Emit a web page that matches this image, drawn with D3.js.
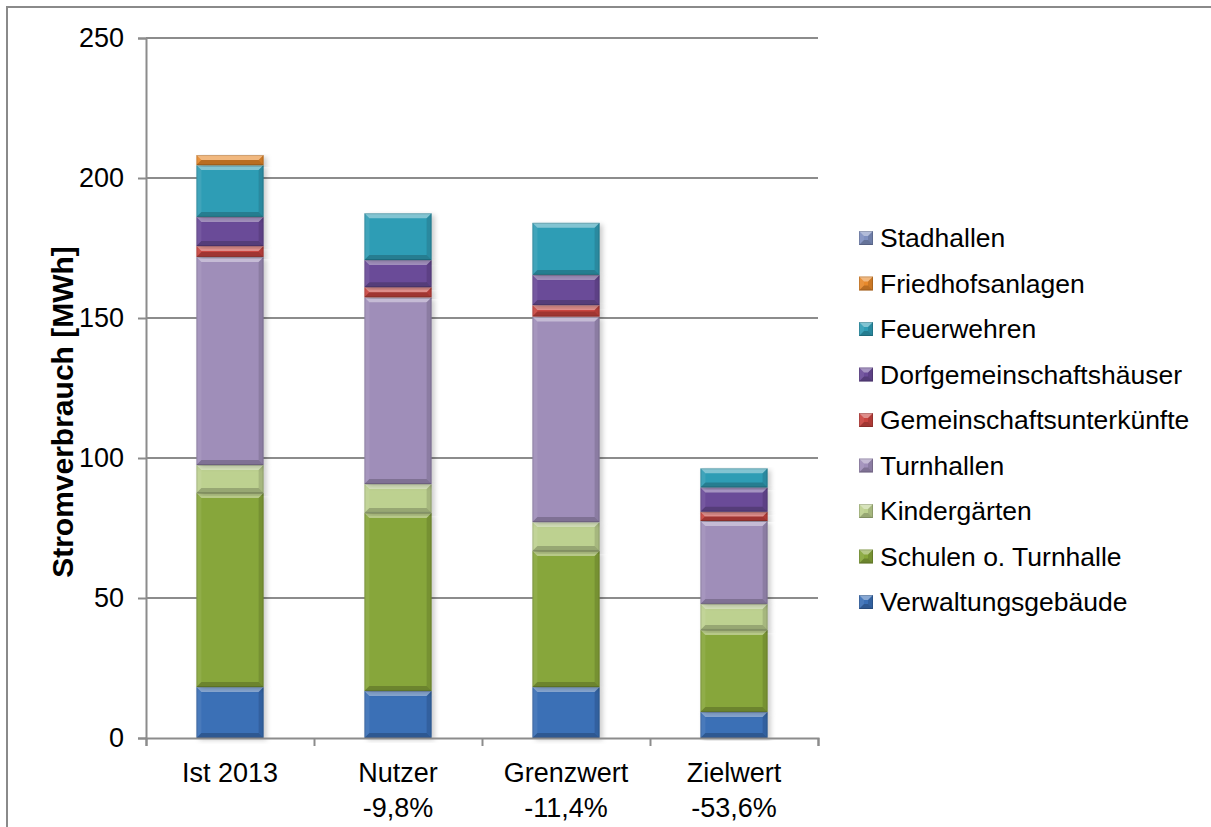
<!DOCTYPE html>
<html>
<head>
<meta charset="utf-8">
<script src="https://cdn.jsdelivr.net/npm/d3@7"></script>
<style>
  body { margin: 0; background: #fff; }
  svg { font-family: "Liberation Sans", Arial, sans-serif; }
</style>
</head>
<body>
<div id="chart"></div>
<script>
// values, MWh
const categories = ['Ist 2013', 'Nutzer', 'Grenzwert', 'Zielwert'],
      changes    = ['', '-9,8%', '-11,4%', '-53,6%'],
      series     = ['Verwaltungsgebäude', 'Schulen o. Turnhalle', 'Kindergärten', 'Turnhallen',
                    'Gemeinschaftsunterkünfte', 'Dorfgemeinschaftshäuser', 'Feuerwehren',
                    'Friedhofsanlagen', 'Stadhallen'],
      verwaltung = [18.2, 16.8, 18.2, 9.3],
      schulen    = [69.3, 63.6, 48.6, 29.3],
      kinder     = [10.0, 10.3, 10.3, 9.3],
      turnhallen = [74.3, 66.7, 73.4, 29.6],
      gemein     = [3.9, 3.6, 4.1, 3.3],
      dorf       = [10.4, 9.7, 10.8, 8.7],
      feuer      = [18.5, 16.7, 18.6, 6.8],
      friedhof   = [3.6, 0, 0, 0],
      stadhallen = [0, 0, 0, 0],
      yTicks     = [0, 50, 100, 150, 200, 250]

const colors = ['#3a6fb6', '#87a63a', '#bdd190', '#9f8eb9', '#c9443f',
                '#6a4b98', '#2f9db5', '#e8892b', '#7f90c0']

const W = 1211, H = 827

let rows = categories.map((c, i) => {
      let r = { cat: c }
      ;[verwaltung, schulen, kinder, turnhallen, gemein, dorf, feuer, friedhof, stadhallen]
        .forEach((s, j) => { r[series[j]] = s[i] })
      return r }),
    stack = d3.stack().keys(series)(rows)

let svg = d3.select('#chart').append('svg')
      .attr('width', W)
      .attr('height', H),
    defs = svg.append('defs')

defs.append('filter')
    .attr('id', 'shadow')
    .attr('x', '-20%').attr('y', '-5%')
    .attr('width', '150%').attr('height', '115%')
  .append('feDropShadow')
    .attr('dx', 3).attr('dy', 2)
    .attr('stdDeviation', 2.5)
    .attr('flood-color', '#000')
    .attr('flood-opacity', 0.2)

// outer frame
svg.append('rect')
  .attr('x', 7).attr('y', 7)
  .attr('width', W + 10).attr('height', H + 10)
  .attr('fill', 'none')
  .attr('stroke', '#8a8a8a')
  .attr('stroke-width', 2)

let y = d3.scaleLinear().domain([0, 250]).range([738, 38]),
    x = d3.scaleBand().domain(categories).range([146, 818])
          .paddingInner(0.6).paddingOuter(0.3),
    xb = d3.scaleLinear().domain([0, categories.length]).range([146, 818])

// gridlines
svg.append('g')
  .selectAll('line')
  .data(yTicks.slice(1))
  .join('line')
    .attr('x1', 146).attr('x2', 818)
    .attr('y1', d => y(d)).attr('y2', d => y(d))
    .attr('stroke', '#8c8c8c')
    .attr('stroke-width', 2)

// beveled segment
function bevel(g, x0, y0, w, h, col) {
  let b = Math.min(5, h / 2), x1 = x0 + w, y1 = y0 + h
  g.append('rect')
    .attr('x', x0).attr('y', y0)
    .attr('width', w).attr('height', h)
    .attr('fill', col)
  let faces = [
    [[x0, y0], [x1, y0], [x1 - b, y0 + b], [x0 + b, y0 + b], '#fff', 0.4],
    [[x0, y0], [x0 + b, y0 + b], [x0 + b, y1 - b], [x0, y1], '#fff', 0.08],
    [[x1, y0], [x1, y1], [x1 - b, y1 - b], [x1 - b, y0 + b], '#000', 0.12],
    [[x0, y1], [x0 + b, y1 - b], [x1 - b, y1 - b], [x1, y1], '#000', 0.2]
  ]
  faces.forEach(f => {
    g.append('polygon')
      .attr('points', f.slice(0, 4).map(p => p.join(',')).join(' '))
      .attr('fill', f[4])
      .attr('fill-opacity', f[5])
  })
  g.append('rect')
    .attr('x', x0 + 0.5).attr('y', y0 + 0.5)
    .attr('width', Math.max(0, w - 1)).attr('height', Math.max(0, h - 1))
    .attr('fill', 'none')
    .attr('stroke', '#000')
    .attr('stroke-opacity', 0.15)
}

let bars = svg.append('g')
stack.forEach((layer, j) => {
  layer.forEach((d, i) => {
    let h = y(d[0]) - y(d[1])
    if (h <= 0.5) return
    let g = bars.append('g').attr('filter', 'url(#shadow)')
    bevel(g, x(categories[i]), y(d[1]), x.bandwidth(), h, colors[j])
  })
})

// y axis
let ya = svg.append('g')
  .attr('transform', 'translate(146,0)')
  .call(d3.axisLeft(y).tickValues(yTicks).tickSize(8).tickPadding(14))
ya.select('.domain').attr('stroke', '#8c8c8c').attr('stroke-width', 2)
ya.selectAll('.tick line').attr('stroke', '#8c8c8c').attr('stroke-width', 2)
ya.selectAll('.tick text')
  .attr('font-size', 27)
  .attr('font-family', '"Liberation Sans", Arial, sans-serif')
  .attr('fill', '#000')

// x axis, ticks at the category borders
let xa = svg.append('g')
  .attr('transform', 'translate(0,738)')
  .call(d3.axisBottom(xb).tickValues(d3.range(categories.length + 1))
          .tickSize(8).tickFormat(''))
xa.select('.domain').attr('stroke', '#8c8c8c').attr('stroke-width', 2)
xa.selectAll('.tick line').attr('stroke', '#8c8c8c').attr('stroke-width', 2)

let xl = svg.append('g')
  .selectAll('text')
  .data(categories)
  .join('text')
    .attr('x', d => x(d) + x.bandwidth() / 2)
    .attr('y', 782)
    .attr('text-anchor', 'middle')
    .attr('font-size', 27)
xl.append('tspan').text(d => d)
xl.append('tspan')
  .attr('x', d => x(d) + x.bandwidth() / 2)
  .attr('dy', 35)
  .text((d, i) => changes[i])

svg.append('text')
  .attr('transform', 'translate(73,' + 412 + ') rotate(-90)')
  .attr('text-anchor', 'middle')
  .attr('font-size', 30)
  .attr('font-weight', 'bold')
  .text('Stromverbrauch [MWh]')

// legend, top entry is the last series
let lg = svg.append('g'),
    order = series.map((s, j) => j).reverse()
order.forEach((j, k) => {
  let cy = 238 + k * 45.5,
      g = lg.append('g')
  bevel(g, 859, cy - 7, 14, 14, colors[j])
  g.append('text')
    .attr('x', 880)
    .attr('y', cy)
    .attr('dy', '0.35em')
    .attr('font-size', 26.5)
    .text(series[j])
})
</script>
</body>
</html>
